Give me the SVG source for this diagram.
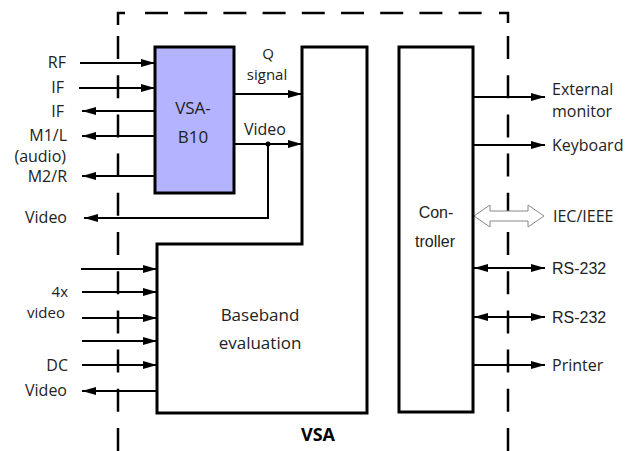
<svg xmlns="http://www.w3.org/2000/svg" width="632" height="451" viewBox="0 0 632 451">
<style>
.t{font-family:"Open Sans","Liberation Sans",sans-serif;font-size:16px;fill:#222}
.a{font-family:"Liberation Sans",Arial,sans-serif;font-size:16px;fill:#222}
.s{font-size:15px}
.r{text-anchor:end}
.m{text-anchor:middle}
.box{fill:#fff;stroke:#000;stroke-width:3}
.ln{fill:none;stroke:#000;stroke-width:2}
.ar{marker-end:url(#ah)}
.ba{marker-start:url(#ah);marker-end:url(#ah)}
.ds{fill:none;stroke:#000;stroke-width:2.5}
.dd{fill:none;stroke:#000;stroke-width:2.5;stroke-dasharray:23 16.2}
</style>
<defs>
<marker id="ah" markerUnits="userSpaceOnUse" markerWidth="15" markerHeight="9" refX="14" refY="4" orient="auto-start-reverse">
<path d="M0,0 L14,4 L0,8 z" fill="#000"/>
</marker>
</defs>
<rect width="632" height="451" fill="#fff"/>
<g id="border">
<path class="ds" d="M118,25 V13 H125"/>
<path class="ds" d="M499,13 H508 V23"/>
<line class="dd" x1="145" y1="13" x2="482" y2="13"/>
<line class="dd" x1="118" y1="36" x2="118" y2="451"/>
<line class="dd" x1="508" y1="36" x2="508" y2="451"/>
<text x="318" y="441" class="t m" style="font-weight:bold;font-size:18px;fill:#000">VSA</text>
</g>
<g id="connectors">
<line class="ln ar" x1="80" y1="63" x2="155" y2="63"/>
<line class="ln ar" x1="79" y1="88" x2="155" y2="88"/>
<line class="ln ar" x1="155" y1="111" x2="82" y2="111"/>
<line class="ln ar" x1="155" y1="136" x2="82" y2="136"/>
<line class="ln ar" x1="155" y1="176" x2="82" y2="176"/>
<path class="ln ar" d="M268,144 V218 H84"/>
<line class="ln ar" x1="234" y1="94" x2="302" y2="94"/>
<line class="ln ar" x1="234" y1="144" x2="302" y2="144"/>
<circle cx="268" cy="144" r="2.5" fill="#000"/>
<line class="ln ar" x1="81" y1="269" x2="157" y2="269"/>
<line class="ln ar" x1="82" y1="292" x2="157" y2="292"/>
<line class="ln ar" x1="82" y1="318" x2="157" y2="318"/>
<line class="ln ar" x1="82" y1="341" x2="157" y2="341"/>
<line class="ln ar" x1="82" y1="365" x2="157" y2="365"/>
<line class="ln ar" x1="157" y1="391" x2="82" y2="391"/>
<line class="ln ar" x1="473" y1="97" x2="545" y2="97"/>
<line class="ln ar" x1="473" y1="145" x2="545" y2="145"/>
<line class="ln ba" x1="474" y1="268" x2="545" y2="268"/>
<line class="ln ba" x1="474" y1="317" x2="545" y2="317"/>
<line class="ln ar" x1="473" y1="365" x2="545" y2="365"/>
<polygon points="474,216 490,205 490,211 528,211 528,205 544,216 528,227 528,221 490,221 490,227" fill="#fff" stroke="#888" stroke-width="1"/>
</g>
<g id="labels">
<text x="66" y="68" class="t r">RF</text>
<text x="64" y="93" class="t r">IF</text>
<text x="64" y="117" class="t r">IF</text>
<text x="67" y="141" class="t r">M1/L</text>
<text x="66" y="162" class="t r">(audio)</text>
<text x="67" y="182" class="t r">M2/R</text>
<text x="67" y="223" class="t r">Video</text>
<text x="268" y="59" class="t m s">Q</text>
<text x="267" y="80" class="t m s">signal</text>
<text x="265" y="135" class="t m">Video</text>
<text x="68" y="297" class="t r s">4x</text>
<text x="65" y="318" class="t r s">video</text>
<text x="68" y="371" class="t r">DC</text>
<text x="67" y="396" class="t r">Video</text>
<text x="552" y="95" class="t">External</text>
<text x="552" y="117" class="t">monitor</text>
<text x="552" y="151" class="t">Keyboard</text>
<text x="553" y="222" class="t">IEC/IEEE</text>
<text x="552" y="274" class="a">RS-232</text>
<text x="552" y="323" class="a">RS-232</text>
<text x="552" y="371" class="t">Printer</text>
</g>
<g id="vsa-b10">
<rect x="155" y="47" width="79" height="146" fill="#b3b3ff" stroke="#000" stroke-width="3"/>
<text x="193" y="114" class="t m" style="font-size:17px">VSA-</text>
<text x="193" y="143" class="t m" style="font-size:17px">B10</text>
</g>
<g id="baseband">
<path class="box" d="M302,47 H367 V413 H157 V244 H302 Z"/>
<text x="260" y="321" class="t m" style="font-size:17px">Baseband</text>
<text x="260" y="349" class="t m" style="font-size:17px">evaluation</text>
</g>
<g id="controller">
<rect class="box" x="399" y="47" width="74" height="365"/>
<text x="436" y="218" class="a m">Con-</text>
<text x="435" y="247" class="a m">troller</text>
</g>
</svg>
